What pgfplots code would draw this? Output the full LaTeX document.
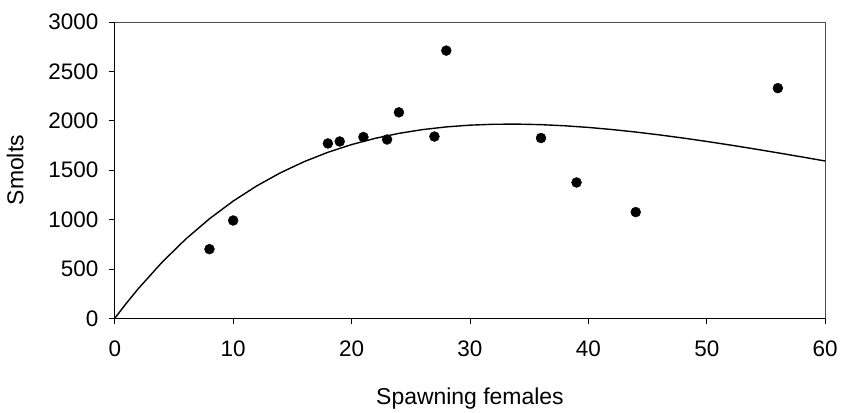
\documentclass[border=0pt]{standalone}
\usepackage{pgfplots}
\pgfplotsset{compat=1.18}
\usepackage{fontspec}
\setmainfont{Liberation Sans}
\begin{document}
\begin{tikzpicture}
\begin{axis}[
  name=ax,
  scale only axis,
  width=712pt, height=297pt,
  xmin=0, xmax=60, ymin=0, ymax=3000,
  xtick={0,10,...,60}, ytick={0,500,...,3000},
  axis lines=left,
  axis line style={-, line width=1pt, black},
  tick align=outside,
  major tick length=6pt,
  tick style={black, line width=0.8pt},
  /pgf/number format/assume math mode=true,
  /pgf/number format/1000 sep={},
  ticklabel style={font=\fontsize{22.5}{26}\selectfont},
  xticklabel style={yshift=-13pt},
  yticklabel style={xshift=-7pt},
  xlabel={Spawning females},
  ylabel={Smolts},
  label style={font=\fontsize{23}{27}\selectfont},
  xlabel style={yshift=-24pt},
  ylabel style={yshift=18pt},
  clip=false,
]
\draw[line width=0.6pt, black!70] (rel axis cs:0,1) -- (rel axis cs:1,1) -- (rel axis cs:1,0);
\addplot[black, line width=1.4pt, no marks] coordinates {
(0,0) (1,155.3) (2,301.5) (4,568.0) (6,802.4) (8,1007.7) (10,1186.4) (12,1340.9)
(14,1473.4) (16,1586.0) (18,1680.5) (20,1758.6) (22,1822.0) (24,1872.1) (26,1910.2)
(28,1937.5) (30,1955.2) (32,1964.3) (34,1965.7) (36,1960.3) (38,1948.9) (40,1932.2)
(42,1910.9) (44,1885.5) (46,1856.6) (48,1824.7) (50,1790.2) (52,1753.5) (54,1715.1)
(56,1675.2) (58,1634.2) (60,1592.3)
};
\addplot[only marks, mark=*, mark size=5pt, black] coordinates {
(8,700) (10,990) (18,1770) (19,1790) (21,1835) (23,1810) (24,2085)
(27,1840) (28,2710) (36,1825) (39,1375) (44,1075) (56,2330)
};
\end{axis}
\path[use as bounding box] ([shift={(-115pt,-83pt)}]ax.south west) rectangle ([shift={(14pt,22pt)}]ax.north east);
\end{tikzpicture}
\end{document}
